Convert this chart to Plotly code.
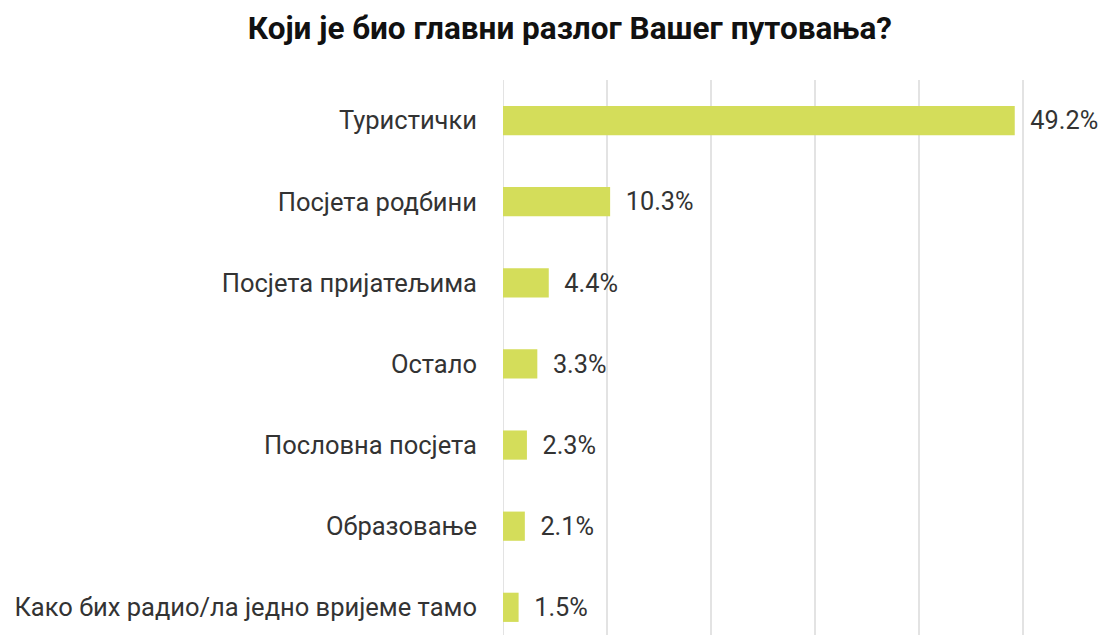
import plotly.graph_objects as go

categories = ["Туристички", "Посјета родбини", "Посјета пријатељима", "Остало",
              "Пословна посјета", "Образовање", "Како бих радио/ла једно вријеме тамо"]
values = [49.2, 10.3, 4.4, 3.3, 2.3, 2.1, 1.5]
labels = ["\u00a0\u00a0" + f"{v:.1f}%" for v in values]

fig = go.Figure(go.Bar(
    y=categories, x=values, orientation="h",
    marker=dict(color="#d4dd5a", line=dict(width=0)),
    width=0.36,
    text=labels, textposition="outside",
    textfont=dict(size=26, color="#333333", family="Roboto"),
    cliponaxis=False,
))

fig.update_layout(
    width=1117, height=635,
    margin=dict(l=495, r=0, t=72, b=0),
    paper_bgcolor="white", plot_bgcolor="white",
    title=dict(text="<b>Који је био главни разлог Вашег путовања?</b>",
               x=0.503, xanchor="center", y=0.968, yanchor="middle",
               font=dict(size=31.5, color="#111111", family="Roboto")),
    showlegend=False,
)
fig.update_xaxes(range=[0, 59.8], dtick=10, tick0=0, showgrid=True,
                 gridcolor="#e3e3e3", gridwidth=2, showticklabels=False,
                 zeroline=False, showline=False, fixedrange=True)
fig.update_yaxes(categoryorder="array", categoryarray=categories,
                 range=[6.44, -0.5], showgrid=False, zeroline=False,
                 ticklabelstandoff=25, ticks="", automargin=False,
                 tickfont=dict(size=25.5, color="#333333", family="Roboto"))
fig.add_shape(type="line", xref="x", yref="paper", x0=0, x1=0, y0=0, y1=1,
              line=dict(color="#e3e3e3", width=2), layer="below")

fig.write_html("out.html")
